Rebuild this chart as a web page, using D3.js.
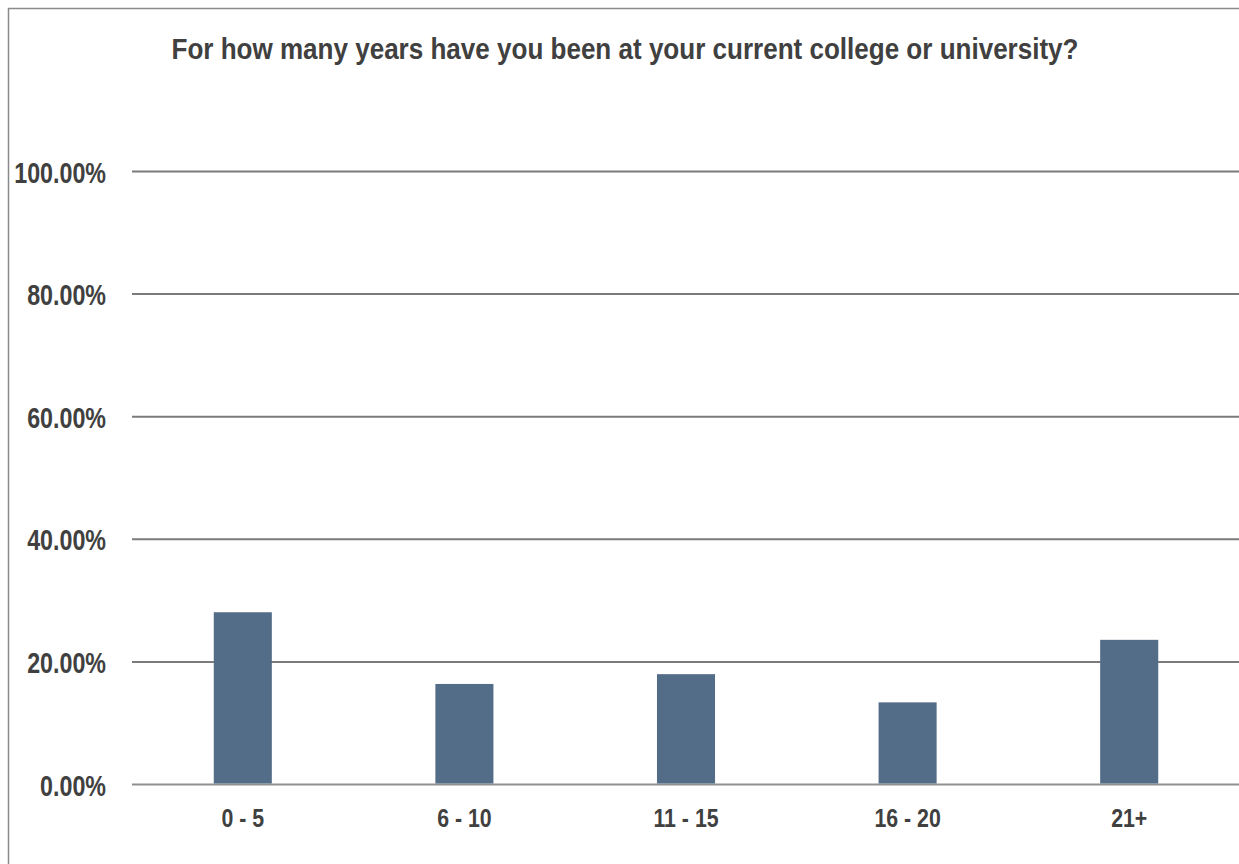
<!DOCTYPE html>
<html>
<head>
<meta charset="utf-8">
<script src="https://cdn.jsdelivr.net/npm/d3@7"></script>
<style>
  html, body { margin: 0; padding: 0; background: #fff; }
  svg { display: block; }
  text { font-family: "Liberation Sans", Arial, sans-serif; font-weight: bold; fill: #404040; }
</style>
</head>
<body>
<svg id="chart" width="1239" height="864"></svg>
<script>
const categories = ["0 - 5", "6 - 10", "11 - 15", "16 - 20", "21+"];
const values = [0.281, 0.164, 0.180, 0.134, 0.236];
const yTicks = [0, 0.2, 0.4, 0.6, 0.8, 1.0];
const titleText = "For how many years have you been at your current college or university?";

const svg = d3.select("#chart");
const W = 1239, H = 864;

// frame (extends beyond right/bottom edges)
svg.append("rect")
  .attr("x", 8.5).attr("y", 8.5)
  .attr("width", W + 20).attr("height", H + 20)
  .attr("fill", "#fff")
  .attr("stroke", "#8a8a8a").attr("stroke-width", 1.5);

const x = d3.scaleBand()
  .domain(categories)
  .range([132, 1240])
  .paddingInner(0.738)
  .paddingOuter(0.369);

const y = d3.scaleLinear().domain([0, 1]).range([784.5, 171.5]);

// gridlines
svg.append("g").selectAll("line")
  .data(yTicks)
  .join("line")
  .attr("x1", 132).attr("x2", 1240)
  .attr("y1", d => y(d)).attr("y2", d => y(d))
  .attr("stroke", d => d === 0 ? "#8f8f8f" : "#7b7b7b")
  .attr("stroke-width", 2);

// bars
svg.append("g").selectAll("rect")
  .data(values)
  .join("rect")
  .attr("x", (d, i) => x(categories[i]))
  .attr("width", x.bandwidth())
  .attr("y", d => y(d))
  .attr("height", d => y(0) - y(d) - 1)
  .attr("fill", "#536c87");

// y labels
const fmt = d => (d * 100).toFixed(2) + "%";
svg.append("g").selectAll("text")
  .data(yTicks)
  .join("text")
  .attr("transform", d => `translate(106,${y(d) + 11}) scale(0.775,1)`)
  .attr("text-anchor", "end")
  .style("font-size", "30px")
  .text(fmt);

// x labels
svg.append("g").selectAll("text")
  .data(categories)
  .join("text")
  .attr("transform", d => `translate(${x(d) + x.bandwidth() / 2},826.5) scale(0.82,1)`)
  .attr("text-anchor", "middle")
  .style("font-size", "26px")
  .text(d => d);

// title
svg.append("text")
  .attr("x", 171.5).attr("y", 58.5)
  .attr("textLength", 907)
  .attr("lengthAdjust", "spacingAndGlyphs")
  .style("font-size", "30px")
  .text(titleText);
</script>
</body>
</html>
